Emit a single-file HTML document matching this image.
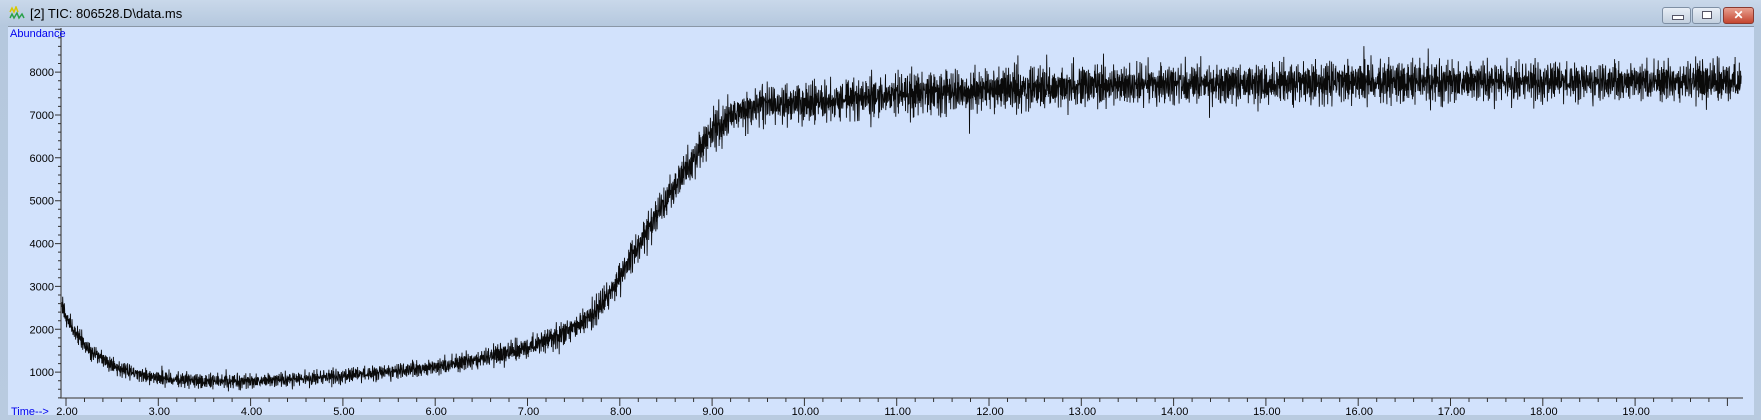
<!DOCTYPE html>
<html><head><meta charset="utf-8"><style>
html,body{margin:0;padding:0;width:1761px;height:420px;overflow:hidden;background:#9aa3ad;font-family:"Liberation Sans",sans-serif}
#win{position:absolute;left:0;top:0;width:1761px;height:420px;background:linear-gradient(#c9d8ea,#b5c8de 26px,#b9cbe0);}
#title{position:absolute;left:30px;top:6px;font-size:13px;color:#000}
#icon{position:absolute;left:9px;top:6px;width:16px;height:14px}
#plot{position:absolute;left:8px;top:26px;width:1746px;height:388px;background:#d2e2fc;border-top:1px solid #8a97a6}
.btn{position:absolute;top:7px;height:15px;border:1px solid #7e8fa4;border-radius:3px;background:linear-gradient(#e8eef6,#c3d0df)}
</style></head><body>
<div id="win">
<svg id="icon" viewBox="0 0 16 14"><path d="M1 6 L3 2 L5 6 L7 1 L9 6" stroke="#d8c800" fill="none" stroke-width="1.5"/><path d="M1 12 L3 8 L5 12 L8 7 L10 12 L13 8 L15 12" stroke="#2aa04a" fill="none" stroke-width="1.5"/></svg>
<div id="title">[2] TIC: 806528.D\data.ms</div>
<div class="btn" style="left:1662px;width:27px"><div style="position:absolute;left:9px;top:7px;width:10px;height:3px;background:#fff;border:1px solid #556"></div></div>
<div class="btn" style="left:1692px;width:27px"><div style="position:absolute;left:9px;top:3px;width:8px;height:6px;border:1px solid #556;background:#fff"></div></div>
<div class="btn" style="left:1723px;width:29px;background:linear-gradient(#e8a090,#c4452f);border-color:#8a3a30;color:#fff;font-size:12px;text-align:center;line-height:15px;font-weight:bold">✕</div>
<div id="plot"></div>
<svg id="chart" width="1761" height="420" style="position:absolute;left:0;top:0"></svg>
</div>
<script>
const baseTimes=[1.95,2.0,2.1,2.25,2.5,2.75,3.0,3.5,4.0,4.5,5.0,5.5,6.0,6.5,7.0,7.5,7.75,8.0,8.25,8.5,8.75,9.0,9.25,9.5,10.0,10.5,11.0,12.0,13.0,14.0,15.0,16.0,17.0,18.0,19.0,20.15];
const baseValues=[2600,2300,1900,1500,1150,950,850,780,780,830,900,1000,1100,1300,1550,2000,2400,3200,4100,5000,5800,6600,7000,7200,7250,7350,7450,7550,7650,7700,7700,7750,7750,7750,7750,7750];
const noiseAmp=[300,280,260,230,210,200,200,200,200,210,220,230,250,270,300,340,370,400,440,480,520,540,560,560,560,560,560,560,560,560,560,560,560,560,560,560];
const jitter=[0.12,-0.55,0.83,-0.21,0.37,-0.94,0.05,0.66,-0.38,0.91,-0.72,0.18,-0.07,0.49,-0.63,0.28,-0.85,0.74,-0.15,0.02,0.58,-0.47,0.96,-0.31,0.22,-0.69,0.41,-0.11,0.79,-0.88,0.33,0.09,-0.52,0.63,-0.26,0.87,-0.78,0.14,-0.41,0.52,-0.03,0.71,-0.6,0.25,-0.92,0.44,0.17,-0.35,0.68,-0.19,0.99,-0.74,0.31,-0.08,0.56,-0.45,0.06,0.81,-0.67,0.39,-0.29];
const xTickLabels=["2.00","3.00","4.00","5.00","6.00","7.00","8.00","9.00","10.00","11.00","12.00","13.00","14.00","15.00","16.00","17.00","18.00","19.00"];
const yTickLabels=["1000","2000","3000","4000","5000","6000","7000","8000"];
const NS="http://www.w3.org/2000/svg";
const svg=document.getElementById('chart');
const X=t=>66+(t-2)*92.3;
const Y=v=>415-v*0.04286;
function mk(tag,attrs,parent){const e=document.createElementNS(NS,tag);for(const k in attrs)e.setAttribute(k,attrs[k]);(parent||svg).appendChild(e);return e;}
function interp(arr,t){for(let i=0;i<baseTimes.length-1;i++){if(t<=baseTimes[i+1]){const f=(t-baseTimes[i])/(baseTimes[i+1]-baseTimes[i]);return arr[i]+(arr[i+1]-arr[i])*f;}}return arr[arr.length-1];}
const ax=mk('path',{d:'M61 28 V398 H1743',stroke:'#555',fill:'none','stroke-width':1.3});

let tk='';
for(let v=400;v<=9000;v+=200){const y=Y(v);if(y<28)break;tk+=`M${v%1000===0?55:58} ${y.toFixed(1)} H61 `;}
for(let t=2;t<=20.15;t+=0.2){const tt=Math.round(t*10)/10;const x=X(tt);tk+=`M${x.toFixed(1)} 398 V${Math.abs(tt-Math.round(tt))<0.01?406:402} `;}
const ticks=mk('path',{d:tk,stroke:'#333','stroke-width':1,fill:'none'});

yTickLabels.forEach(l=>{const t=mk('text',{x:54,y:Y(+l)+4,'text-anchor':'end','font-size':11,fill:'#000'});t.textContent=l;
});
xTickLabels.forEach(l=>{const t=mk('text',{x:X(+l)+1,y:415,'text-anchor':'middle','font-size':11,fill:'#000'});t.textContent=l;
});
const at=mk('text',{x:10,y:37,'font-size':11,fill:'#0000ee'});at.textContent='Abundance';

const tt2=mk('text',{x:11,y:415,'font-size':11,fill:'#0000ee'});tt2.textContent='Time-->';

let d='';const N=5200;const J=jitter.length;
for(let i=0;i<=N;i++){const t=1.95+(20.15-1.95)*i/N;
const k=Math.floor(i/J);
let n=jitter[i%J]*0.45+jitter[(i*7+k*3)%J]*0.35+jitter[(i*3+k*11+5)%J]*0.3;
if(jitter[(i*13+k)%J]>0.93)n+=jitter[(i*5+k)%J]*0.8;
const v=interp(baseValues,t)+n*interp(noiseAmp,t)*1.25;
d+=(i?'L':'M')+X(t).toFixed(1)+' '+Math.min(397,Y(v)).toFixed(1);}
const tr=mk('path',{d:d,stroke:'#0a0a0a',fill:'none','stroke-width':0.9});

</script>
</body></html>
